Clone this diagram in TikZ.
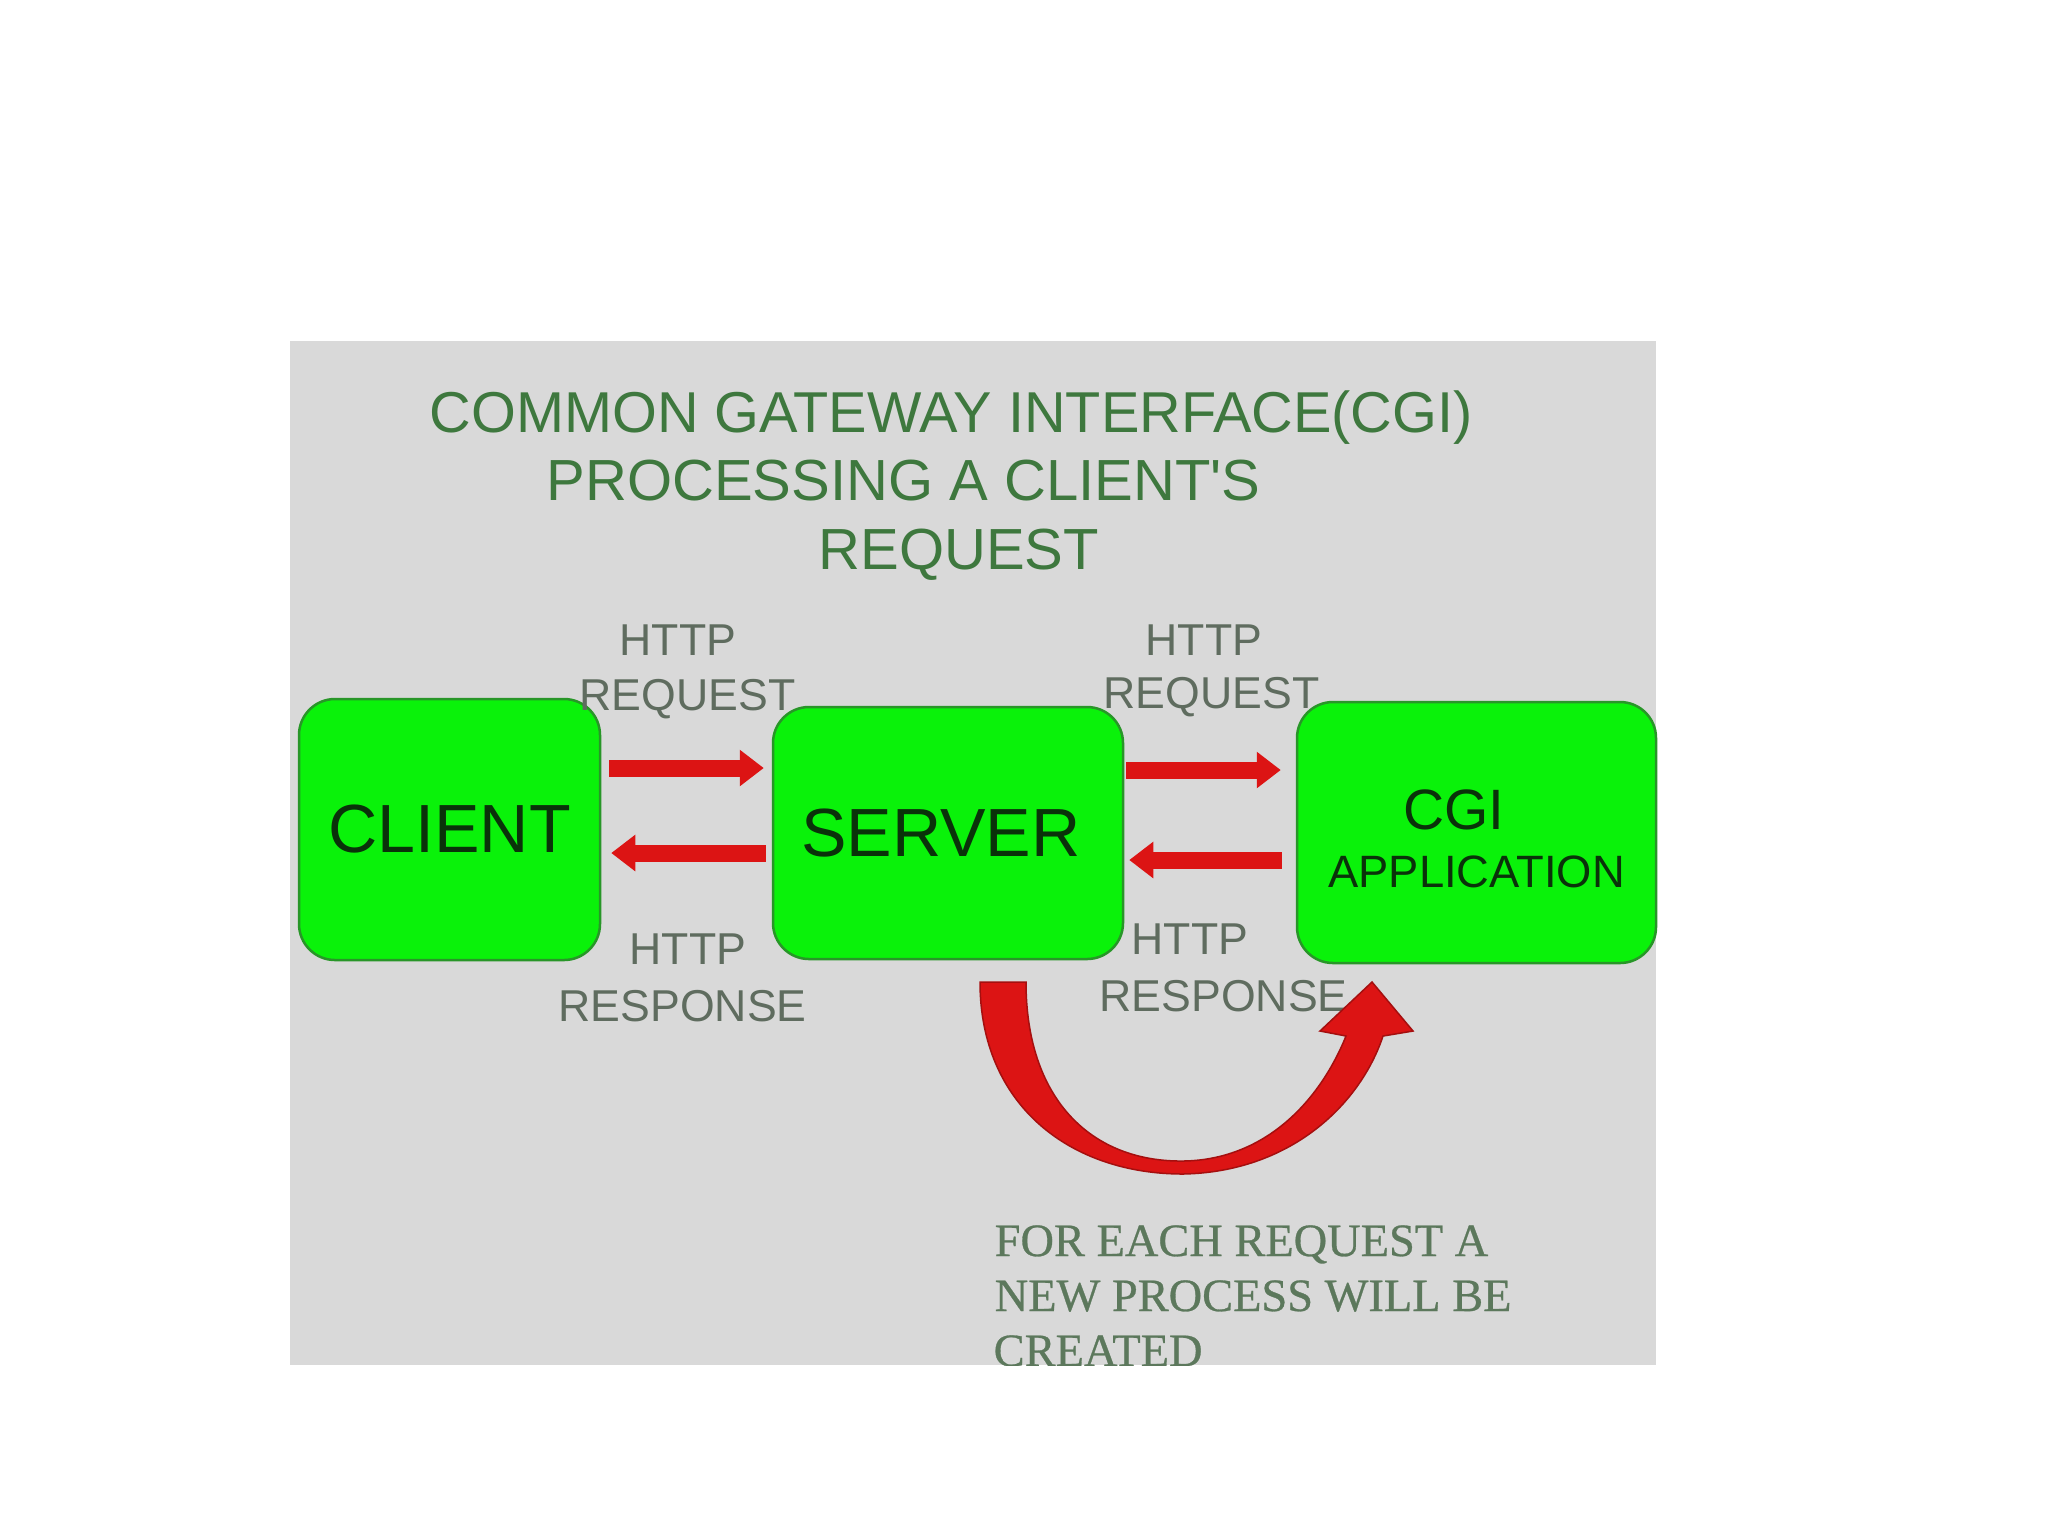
\documentclass[tikz,border=0pt]{standalone}
\usepackage{fontspec}
\setmainfont{Liberation Sans}
\newfontfamily\serifn[FakeBold=0.6]{Liberation Serif}
\usetikzlibrary{arrows.meta,calc}
\definecolor{panelgray}{RGB}{217,217,217}
\definecolor{boxgreen}{RGB}{10,242,10}
\definecolor{boxedge}{RGB}{40,150,40}
\definecolor{boxtext}{RGB}{10,50,10}
\definecolor{titlegreen}{RGB}{62,120,62}
\definecolor{labelgray}{RGB}{95,108,95}
\definecolor{notegreen}{RGB}{92,120,92}
\definecolor{arrowred}{RGB}{220,20,20}
\definecolor{arrowdark}{RGB}{165,15,15}
\tikzset{
  procbox/.style={draw=boxedge, line width=0.25mm, fill=boxgreen, rounded corners=3.6mm,
    inner sep=0pt, text=boxtext, align=center},
  hlabel/.style={anchor=base west, inner sep=0pt, text=labelgray, font=\fontsize{12.7}{15}\selectfont},
  titletext/.style={anchor=base west, inner sep=0pt, text=titlegreen},
  notetext/.style={anchor=base west, inner sep=0pt, text=notegreen, font=\serifn\fontsize{13.2}{15.4}\selectfont},
  flowarrow/.style={draw=arrowred, line width=1.7mm, -{Triangle[length=2.4mm,width=3.5mm]}},
}
\begin{document}
\begin{tikzpicture}[x=0.1mm,y=-0.1mm]
\useasboundingbox (0,0) rectangle (2048,1536);
\fill[white] (0,0) rectangle (2048,1536);
\fill[panelgray] (290,341) rectangle (1656,1365);

% title
\node[titletext, font=\fontsize{16.4}{18}\selectfont] (t1) at (429,432) {COMMON GATEWAY INTERFACE(CGI)};
\node[titletext, font=\fontsize{16.5}{18}\selectfont] (t2) at (546,500) {PROCESSING A CLIENT\textquotesingle S};
\node[titletext, font=\fontsize{16.5}{18}\selectfont] (t3) at (818,569) {REQUEST};

% boxes
\node[procbox, minimum width=30.1mm, minimum height=26.1mm, font=\fontsize{19.4}{20}\selectfont] (client) at (449.5,829.5) {CLIENT};
\node[procbox, minimum width=35.0mm, minimum height=25.2mm, font=\fontsize{19.4}{20}\selectfont] (server) at (948,833) {SERVER\hspace*{1.4mm}};
\node[procbox, minimum width=35.9mm, minimum height=26.1mm, font=\fontsize{12.9}{16.5}\selectfont] (cgi) at (1476.5,832.5)
  {{\fontsize{16.2}{16.5}\selectfont\rule{0pt}{5.2mm}CGI\hspace*{4.5mm}}\\APPLICATION};

% labels
\node[hlabel] (lreq1) at (619,655) {HTTP};
\node[hlabel] (lreq2) at (579,710) {REQUEST};
\node[hlabel] (rreq1) at (1145,655) {HTTP};
\node[hlabel] (rreq2) at (1103,708) {REQUEST};
\node[hlabel] (lres1) at (629,964) {HTTP};
\node[hlabel] (lres2) at (558,1021) {RESPONSE};
\node[hlabel] (rres1) at (1131,954) {HTTP};
\node[hlabel] (rres2) at (1099,1011) {RESPONSE};

% straight arrows
\draw[flowarrow, shorten >=0.8mm] ($(client.east)+(8,-61.5)$) coordinate (a1) -- (a1 -| server.west);
\draw[flowarrow, shorten >=1.0mm] ($(server.west)+(-6,20)$) coordinate (a2) -- (a2 -| client.east);
\draw[flowarrow, shorten >=1.5mm] ($(server.east)+(2,-63)$) coordinate (a3) -- (a3 -| cgi.west);
\draw[flowarrow, shorten >=0.5mm] ($(cgi.west)+(-14,27.5)$) coordinate (a4) -- (a4 -| server.east);

% curved arrow: a new process for each request
\fill[arrowred, draw=arrowdark, line width=0.15mm]
  (980,982) .. controls (980,1105) and (1070,1174) .. (1183,1174)
  .. controls (1290,1172) and (1360,1105) .. (1383,1036)
  -- (1413,1031) -- (1372,982) -- (1320,1031) -- (1346,1036)
  .. controls (1318,1105) and (1262,1160) .. (1183,1161)
  .. controls (1092,1162) and (1026,1100) .. (1026,982) -- cycle;

% note
\begin{scope}
\clip (290,341) rectangle (1656,1365);
\node[notetext] (note1) at (994,1256) {FOR EACH REQUEST A};
\node[notetext] (note2) at (994,1311) {NEW PROCESS WILL BE};
\node[notetext] (note3) at (993,1366) {CREATED};
\end{scope}
\end{tikzpicture}
\end{document}
